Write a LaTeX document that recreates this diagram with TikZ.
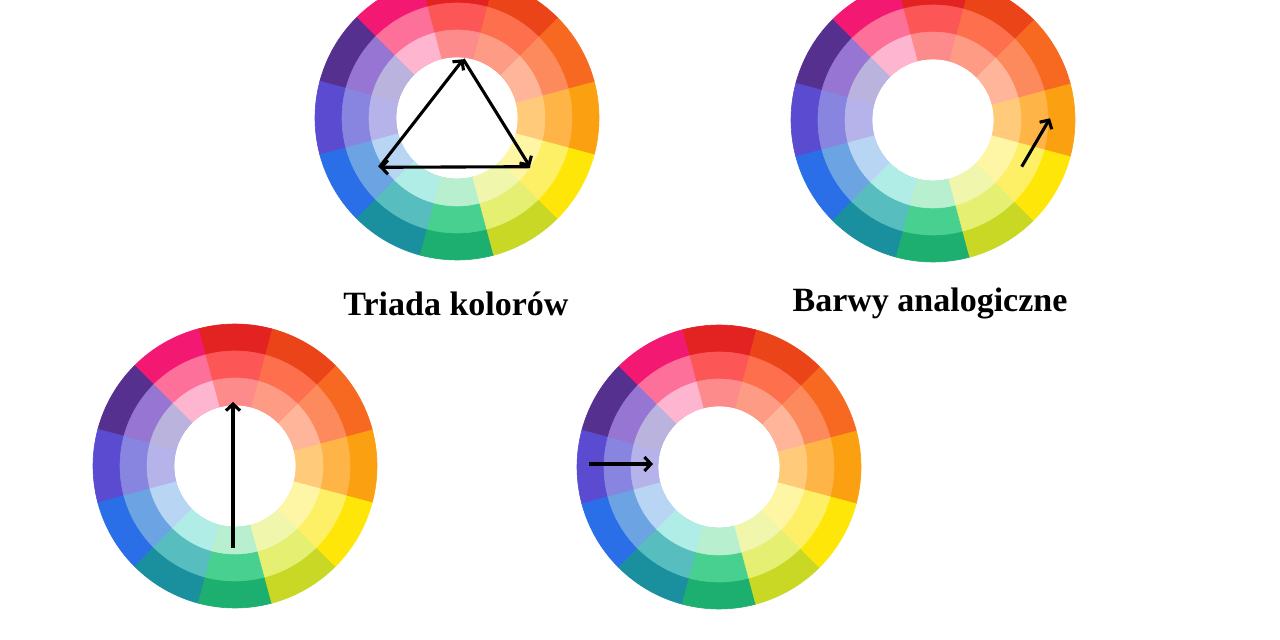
\documentclass[tikz,border=0pt]{standalone}
\usepackage{fontspec}
\setmainfont{Liberation Serif}
\usetikzlibrary{arrows.meta,calc}
% outer (O), middle (M), inner (I) ring colours, index k -> angle 30k
\definecolor{cO0}{HTML}{FBA010}\definecolor{cM0}{HTML}{FEB447}\definecolor{cI0}{HTML}{FFCB7A}
\definecolor{cO1}{HTML}{F76920}\definecolor{cM1}{HTML}{FD8A5C}\definecolor{cI1}{HTML}{FEB59A}
\definecolor{cO2}{HTML}{EB4419}\definecolor{cM2}{HTML}{FD6F4D}\definecolor{cI2}{HTML}{FE9B85}
\definecolor{cO3}{HTML}{E32222}\definecolor{cM3}{HTML}{FC5656}\definecolor{cI3}{HTML}{FD8B8B}
\definecolor{cO4}{HTML}{F31872}\definecolor{cM4}{HTML}{FC7099}\definecolor{cI4}{HTML}{FEB5D0}
\definecolor{cO5}{HTML}{55308F}\definecolor{cM5}{HTML}{9675D3}\definecolor{cI5}{HTML}{B9B3DD}
\definecolor{cO6}{HTML}{5A4BD0}\definecolor{cM6}{HTML}{8785E0}\definecolor{cI6}{HTML}{B5B3E9}
\definecolor{cO7}{HTML}{2A6EE8}\definecolor{cM7}{HTML}{6CA3E3}\definecolor{cI7}{HTML}{B8D5F4}
\definecolor{cO8}{HTML}{1A909E}\definecolor{cM8}{HTML}{58BDBE}\definecolor{cI8}{HTML}{B0EDE6}
\definecolor{cO9}{HTML}{1DAF6F}\definecolor{cM9}{HTML}{48D090}\definecolor{cI9}{HTML}{B8EFCF}
\definecolor{cO10}{HTML}{C8D824}\definecolor{cM10}{HTML}{E5EF72}\definecolor{cI10}{HTML}{F0F7AD}
\definecolor{cO11}{HTML}{FEE708}\definecolor{cM11}{HTML}{FEF066}\definecolor{cI11}{HTML}{FEF6A4}
\tikzset{
  wedge/.style={fill=#1, draw=#1, line width=0.6pt, line join=round},
  pics/colorwheel/.style={code={
    \foreach \k in {0,...,11}{
      \pgfmathsetmacro\aa{\k*30-15}
      \pgfmathsetmacro\ab{\k*30+15}
      \path[wedge=cO\k] (\aa:61) arc[start angle=\aa,end angle=\ab,radius=61]
        -- (\ab:142) arc[start angle=\ab,end angle=\aa,radius=142] -- cycle;
    }
    \foreach \k in {0,...,11}{
      \pgfmathsetmacro\aa{\k*30-15}
      \pgfmathsetmacro\ab{\k*30+15}
      \path[wedge=cM\k] (\aa:61) arc[start angle=\aa,end angle=\ab,radius=61]
        -- (\ab:115) arc[start angle=\ab,end angle=\aa,radius=115] -- cycle;
    }
    \foreach \k in {0,...,11}{
      \pgfmathsetmacro\aa{\k*30-15}
      \pgfmathsetmacro\ab{\k*30+15}
      \path[wedge=cI\k] (\aa:61) arc[start angle=\aa,end angle=\ab,radius=61]
        -- (\ab:88) arc[start angle=\ab,end angle=\aa,radius=88] -- cycle;
    }
    \fill[white] (0,0) circle[radius=60.6];
  }},
  arr/.style={-{Straight Barb[length=6.5pt,width=14pt]}, line width=3.1pt, black},
  title/.style={font=\bfseries\fontsize{34}{40}\selectfont, anchor=base, inner sep=0pt}
}
\begin{document}
\begin{tikzpicture}[x=1pt,y=1pt]
\useasboundingbox (0,0) rectangle (1280,640);
\clip (0,0) rectangle (1280,640);
\fill[white] (0,0) rectangle (1280,640);
% wheel centres
\coordinate (w1) at (457,522);
\coordinate (w2) at (933,520);
\coordinate (w3) at (235,174);
\coordinate (w4) at (719,173);
\pic at (w1) {colorwheel};
\pic at (w2) {colorwheel};
\pic at (w3) {colorwheel};
\pic at (w4) {colorwheel};
% triad
\coordinate (t1) at ($(w1)+(6.3,58.7)$);
\coordinate (t2) at ($(w1)+(73,-48.7)$);
\coordinate (t3) at ($(w1)+(-77.7,-49.3)$);
\draw[arr] (t3) -- (t1);
\draw[arr] (t1) -- (t2);
\draw[arr] (t2) -- (t3);
% analogous
\coordinate (a1) at ($(w2)+(88.7,-46.7)$);
\coordinate (a2) at ($(w2)+(117,1.7)$);
\draw[arr] (a1) -- (a2);
% vertical
\coordinate (c1) at ($(w3)+(-2,-82)$);
\coordinate (c2) at ($(w3)+(-2,64)$);
\draw[arr] (c1) -- (c2);
% horizontal
\coordinate (h1) at ($(w4)+(-130,3)$);
\coordinate (h2) at ($(w4)+(-66,3)$);
\draw[arr] (h1) -- (h2);
% labels
\node[title] (lab1) at (456,324) {Triada kolorów};
\node[title] (lab2) at (930,328) {Barwy analogiczne};
\end{tikzpicture}
\end{document}
